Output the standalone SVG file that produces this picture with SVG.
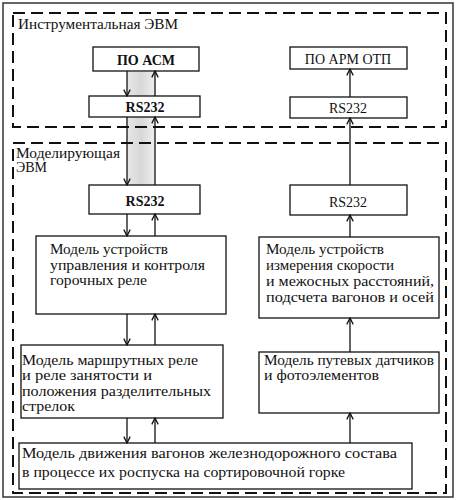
<svg xmlns="http://www.w3.org/2000/svg" width="457" height="500" viewBox="0 0 457 500">
<style>
.box{fill:#fff;stroke:#111;stroke-width:1.3}
.dash{fill:none;stroke:#111;stroke-width:2;stroke-dasharray:12 6}
.t{font-family:'Liberation Serif','Times New Roman',Tinos,'Noto Serif','DejaVu Serif',serif;font-size:14px;fill:#111}
.c{text-anchor:middle;font-weight:bold}
.ln{stroke:#111;stroke-width:1.3;fill:none}
</style>
<defs>
<marker id="ah" viewBox="0 0 10 10" refX="9" refY="5" markerWidth="8" markerHeight="8" orient="auto" markerUnits="userSpaceOnUse">
<path d="M1,1 L9,5 L1,9" fill="none" stroke="#111" stroke-width="1.6"/>
</marker>
<linearGradient id="g" x1="0" y1="0" x2="1" y2="0">
<stop offset="0" stop-color="#e6e6e6"/><stop offset="0.5" stop-color="#d8d8d8"/><stop offset="1" stop-color="#eeeeee"/>
</linearGradient>
</defs>
<rect x="0" y="0" width="457" height="500" fill="#fff"/>
<rect x="3" y="3" width="450" height="494" fill="none" stroke="#333" stroke-width="1.5"/>
<rect x="127" y="72" width="28" height="113" fill="url(#g)"/>
<g id="instr">
<rect class="dash" x="13" y="13" width="433" height="114"/>
<text class="t" x="18" y="29" textLength="160" lengthAdjust="spacingAndGlyphs">Инструментальная ЭВМ</text>
</g>
<g id="model">
<rect class="dash" x="13" y="143" width="433" height="350"/>
<text class="t" x="16" y="158" textLength="104" lengthAdjust="spacingAndGlyphs">Моделирующая</text>
<text class="t" x="16" y="172">ЭВМ</text>
</g>
<g id="poasm"><rect class="box" x="93" y="47" width="106" height="24"/><text class="t c" x="146" y="65">ПО АСМ</text></g>
<g id="rs1"><rect class="box" x="89" y="96" width="111" height="21"/><text class="t c" x="145" y="112">RS232</text></g>
<g id="poarm"><rect class="box" x="290" y="47" width="117" height="22"/><text class="t" x="348" y="64" text-anchor="middle">ПО АРМ ОТП</text></g>
<g id="rs2"><rect class="box" x="290" y="97" width="117" height="21"/><text class="t" x="348" y="113" text-anchor="middle">RS232</text></g>
<g id="rs3"><rect class="box" x="89" y="185" width="111" height="29"/><text class="t c" x="145" y="206">RS232</text></g>
<g id="rs4"><rect class="box" x="290" y="185" width="117" height="30"/><text class="t" x="348" y="207" text-anchor="middle">RS232</text></g>
<g id="m1"><rect class="box" x="36" y="236" width="190" height="78"/>
<text class="t" x="50" y="254" textLength="118" lengthAdjust="spacingAndGlyphs">Модель устройств</text>
<text class="t" x="50" y="270" textLength="155" lengthAdjust="spacingAndGlyphs">управления и контроля</text>
<text class="t" x="50" y="285" textLength="97" lengthAdjust="spacingAndGlyphs">горочных реле</text></g>
<g id="m2"><rect class="box" x="259" y="237" width="180" height="81"/>
<text class="t" x="266" y="254" textLength="118" lengthAdjust="spacingAndGlyphs">Модель устройств</text>
<text class="t" x="266" y="270" textLength="128" lengthAdjust="spacingAndGlyphs">измерения скорости</text>
<text class="t" x="266" y="286" textLength="168" lengthAdjust="spacingAndGlyphs">и межосных расстояний,</text>
<text class="t" x="266" y="302" textLength="168" lengthAdjust="spacingAndGlyphs">подсчета вагонов и осей</text></g>
<g id="m3"><rect class="box" x="21" y="345" width="202" height="73"/>
<text class="t" x="22" y="365" textLength="176" lengthAdjust="spacingAndGlyphs">Модель маршрутных реле</text>
<text class="t" x="22" y="380" textLength="130" lengthAdjust="spacingAndGlyphs">и реле занятости и</text>
<text class="t" x="22" y="396" textLength="189" lengthAdjust="spacingAndGlyphs">положения разделительных</text>
<text class="t" x="22" y="411" textLength="53" lengthAdjust="spacingAndGlyphs">стрелок</text></g>
<g id="m4"><rect class="box" x="259" y="352" width="180" height="61"/>
<text class="t" x="264" y="365" textLength="170" lengthAdjust="spacingAndGlyphs">Модель путевых датчиков</text>
<text class="t" x="264" y="380" textLength="115" lengthAdjust="spacingAndGlyphs">и фотоэлементов</text></g>
<g id="m5"><rect class="box" x="19" y="443" width="393" height="46"/>
<text class="t" x="22" y="458" textLength="375" lengthAdjust="spacingAndGlyphs">Модель движения вагонов железнодорожного состава</text>
<text class="t" x="22" y="477" textLength="323" lengthAdjust="spacingAndGlyphs">в процессе их роспуска на сортировочной горке</text></g>
<g id="connectors">
<line class="ln" x1="127" y1="71" x2="127" y2="96" marker-end="url(#ah)"/>
<line class="ln" x1="155" y1="96" x2="155" y2="71" marker-end="url(#ah)"/>
<line class="ln" x1="127" y1="117" x2="127" y2="185" marker-end="url(#ah)"/>
<line class="ln" x1="155" y1="185" x2="155" y2="117" marker-end="url(#ah)"/>
<line class="ln" x1="127" y1="214" x2="127" y2="236" marker-end="url(#ah)"/>
<line class="ln" x1="155" y1="236" x2="155" y2="214" marker-end="url(#ah)"/>
<line class="ln" x1="127" y1="314" x2="127" y2="345" marker-end="url(#ah)"/>
<line class="ln" x1="155" y1="345" x2="155" y2="314" marker-end="url(#ah)"/>
<line class="ln" x1="127" y1="418" x2="127" y2="443" marker-end="url(#ah)"/>
<line class="ln" x1="155" y1="443" x2="155" y2="418" marker-end="url(#ah)"/>
<line class="ln" x1="350" y1="97" x2="350" y2="69" marker-end="url(#ah)"/>
<line class="ln" x1="350" y1="185" x2="350" y2="118" marker-end="url(#ah)"/>
<line class="ln" x1="350" y1="237" x2="350" y2="215" marker-end="url(#ah)"/>
<line class="ln" x1="350" y1="352" x2="350" y2="318" marker-end="url(#ah)"/>
<line class="ln" x1="350" y1="443" x2="350" y2="413" marker-end="url(#ah)"/>
</g>
</svg>
